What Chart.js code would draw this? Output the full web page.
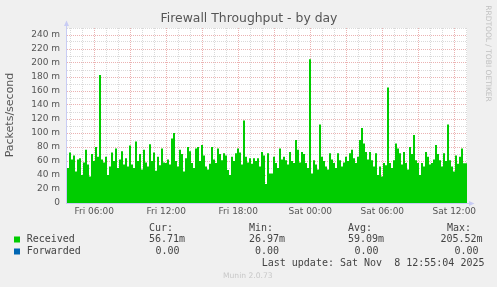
<!DOCTYPE html>
<html><head><meta charset="utf-8">
<script src="https://cdn.jsdelivr.net/npm/chart.js@4/dist/chart.umd.min.js"></script>
<style>html,body{margin:0;padding:0;background:#f0f0f0;}canvas{display:block;}</style>
</head><body>
<canvas id="c" width="497" height="287"></canvas>
<script>
// ---- chart data ----
const chartTitle = 'Firewall Throughput - by day';
const yAxisTitle = 'Packets/second';
const watermark = 'RRDTOOL / TOBI OETIKER';
const startHour = 3.725;          // hours after Fri 00:00 where the graph starts
const stepHours = 1 / 6;          // 10-minute samples
const endHour = 37.058;
const dayNames = ['Fri', 'Sat'];
const received = [
  50, 50, 72, 62, 68, 45, 62, 64, 40, 58,
  76, 55, 38, 70, 60, 80, 66, 183, 62, 58,
  66, 40, 52, 72, 60, 78, 50, 62, 74, 55,
  64, 52, 82, 55, 50, 88, 60, 70, 48, 76,
  58, 52, 84, 60, 72, 46, 66, 54, 78, 58,
  57, 62, 55, 92, 100, 60, 52, 76, 70, 45,
  64, 80, 74, 57, 50, 78, 80, 60, 83, 68,
  52, 48, 56, 80, 62, 57, 78, 70, 61, 71,
  68, 47, 40, 66, 60, 71, 78, 72, 55, 118,
  66, 58, 64, 56, 64, 60, 64, 52, 73, 68,
  27, 71, 42, 42, 66, 57, 50, 78, 62, 66,
  61, 55, 73, 60, 57, 90, 76, 58, 73, 70,
  57, 50, 205.52, 42, 61, 55, 48, 112, 66, 60,
  52, 48, 71, 62, 57, 50, 71, 61, 52, 58,
  66, 60, 71, 76, 64, 57, 66, 90, 107, 85,
  73, 62, 73, 61, 52, 71, 40, 52, 38, 57,
  54, 165, 57, 50, 61, 85, 78, 71, 55, 73,
  57, 48, 80, 70, 97, 61, 57, 40, 57, 52,
  73, 66, 55, 57, 62, 83, 70, 61, 52, 71,
  60, 112, 61, 52, 45, 68, 56, 66, 78, 56.71
];
const yMin = 0, yMax = 250, yStep = 10, yLabelStep = 20;
const seriesNames = ['Received', 'Forwarded'];
const seriesColors = ['#00cc00', '#0066b3'];
const statHeaders = ['Cur:', 'Min:', 'Avg:', 'Max:'];
const receivedStats = ['56.71m', '26.97m', '59.09m', '205.52m'];
const forwardedStats = ['0.00', '0.00', '0.00', '0.00'];
const lastUpdate = 'Last update: Sat Nov  8 12:55:04 2025';
const footer = 'Munin 2.0.73';

// ---- build dataset ----
const points = received.map((v, i) => ({x: startHour + i * stepHours, y: v}));
points.push({x: startHour + received.length * stepHours, y: received[received.length - 1]});

const minorGrid = '#dadada';
const majorGrid = '#ebb2b2';
const axisColor = '#c8ccf4';
const textColor = '#555555';

const decor = {
  id: 'decor',
  beforeDraw(chart) {
    const {ctx, chartArea: a} = chart;
    ctx.save();
    ctx.fillStyle = '#ffffff';
    ctx.fillRect(a.left, a.top, a.right - a.left, a.bottom - a.top);
    ctx.restore();
  },
  afterDraw(chart) {
    const {ctx, chartArea: a} = chart;
    ctx.save();
    // axes
    ctx.strokeStyle = axisColor; ctx.fillStyle = axisColor; ctx.lineWidth = 1;
    ctx.beginPath();
    ctx.moveTo(a.left - 0.5, a.bottom + 0.5); ctx.lineTo(a.left - 0.5, a.top - 2);
    ctx.moveTo(a.left - 1, a.bottom + 0.5); ctx.lineTo(a.right + 2, a.bottom + 0.5);
    ctx.stroke();
    ctx.beginPath();
    ctx.moveTo(a.left - 0.5, a.top - 7.5); ctx.lineTo(a.left - 3, a.top - 2); ctx.lineTo(a.left + 2, a.top - 2); ctx.closePath(); ctx.fill();
    ctx.beginPath();
    ctx.moveTo(a.right + 7.5, a.bottom + 0.5); ctx.lineTo(a.right + 2, a.bottom - 2); ctx.lineTo(a.right + 2, a.bottom + 3); ctx.closePath(); ctx.fill();

    // title
    ctx.fillStyle = textColor;
    ctx.textBaseline = 'middle';
    ctx.textAlign = 'center';
    ctx.font = '12.4px "DejaVu Sans"';
    ctx.fillText(chartTitle, 249, 19);

    // y title
    ctx.save();
    ctx.translate(10.5, 115);
    ctx.rotate(-Math.PI / 2);
    ctx.font = '11px "DejaVu Sans"';
    ctx.fillText(yAxisTitle, 0, 0);
    ctx.restore();

    // watermark
    ctx.save();
    ctx.translate(488, 53.5);
    ctx.rotate(Math.PI / 2);
    ctx.fillStyle = '#c0c0c0';
    ctx.font = '7.5px "DejaVu Sans"';
    ctx.fillText(watermark, 0, 0);
    ctx.restore();

    // legend
    ctx.textAlign = 'left';
    ctx.font = '10px "DejaVu Sans Mono"';
    ctx.fillStyle = '#444444';
    const headX = [149, 249, 348, 447];
    statHeaders.forEach((h, i) => ctx.fillText(h, headX[i], 228.5));
    const rowY = [239.5, 251.5];
    const rows = [receivedStats, forwardedStats];
    const valX = [[149, 249, 348, 440.5], [155.5, 255, 354.5, 454.5]];
    seriesNames.forEach((n, r) => {
      ctx.fillStyle = seriesColors[r];
      ctx.fillRect(14, rowY[r] - 3, 6, 6);
      ctx.fillStyle = '#444444';
      ctx.fillText(n, 26.7, rowY[r]);
      rows[r].forEach((s, i) => ctx.fillText(s, valX[r][i], rowY[r]));
    });
    ctx.fillText(lastUpdate, 261.7, 263.5);
    ctx.fillStyle = '#c8c8c8';
    ctx.font = '7.6px "DejaVu Sans"';
    ctx.fillText(footer, 223, 276);
    ctx.restore();
  }
};

new Chart(document.getElementById('c'), {
  type: 'line',
  data: {
    datasets: [{
      label: seriesNames[0],
      data: points,
      stepped: 'after',
      fill: 'origin',
      backgroundColor: seriesColors[0],
      borderColor: seriesColors[0],
      borderWidth: 0,
      pointRadius: 0
    }]
  },
  options: {
    responsive: false,
    devicePixelRatio: 1,
    animation: false,
    layout: {padding: {top: 28, right: 30, bottom: 0, left: 0}},
    plugins: {legend: {display: false}, tooltip: {enabled: false}, title: {display: false}},
    scales: {
      x: {
        type: 'linear',
        min: startHour,
        max: endHour,
        afterFit(s) { s.height = 84; },
        border: {display: false, dash: [1, 1]},
        grid: {
          drawTicks: false,
          color: c => (c.tick && Math.round(c.tick.value) % 3 === 0) ? majorGrid : minorGrid
        },
        ticks: {
          stepSize: 1,
          includeBounds: false,
          autoSkip: false,
          maxRotation: 0,
          padding: 3,
          color: textColor,
          font: {family: 'DejaVu Sans', size: 9},
          callback: v => {
            const h = Math.round(v);
            if (h % 6 !== 0) return '';
            const hh = h % 24;
            return dayNames[Math.floor(h / 24)] + ' ' + (hh < 10 ? '0' : '') + hh + ':00';
          }
        }
      },
      y: {
        min: yMin,
        max: yMax,
        afterFit(s) { s.width = 67; },
        border: {display: false, dash: [1, 1]},
        grid: {
          drawTicks: false,
          color: c => (c.tick && c.tick.value % yLabelStep === 0 && c.tick.value !== yMax) ? majorGrid : minorGrid
        },
        ticks: {
          stepSize: yStep,
          autoSkip: false,
          padding: 7,
          color: textColor,
          font: {family: 'DejaVu Sans', size: 9},
          callback: v => (v % yLabelStep === 0) ? (v === 0 ? '0' : v + ' m') : ''
        }
      }
    }
  },
  plugins: [decor]
});
</script>
</body></html>
